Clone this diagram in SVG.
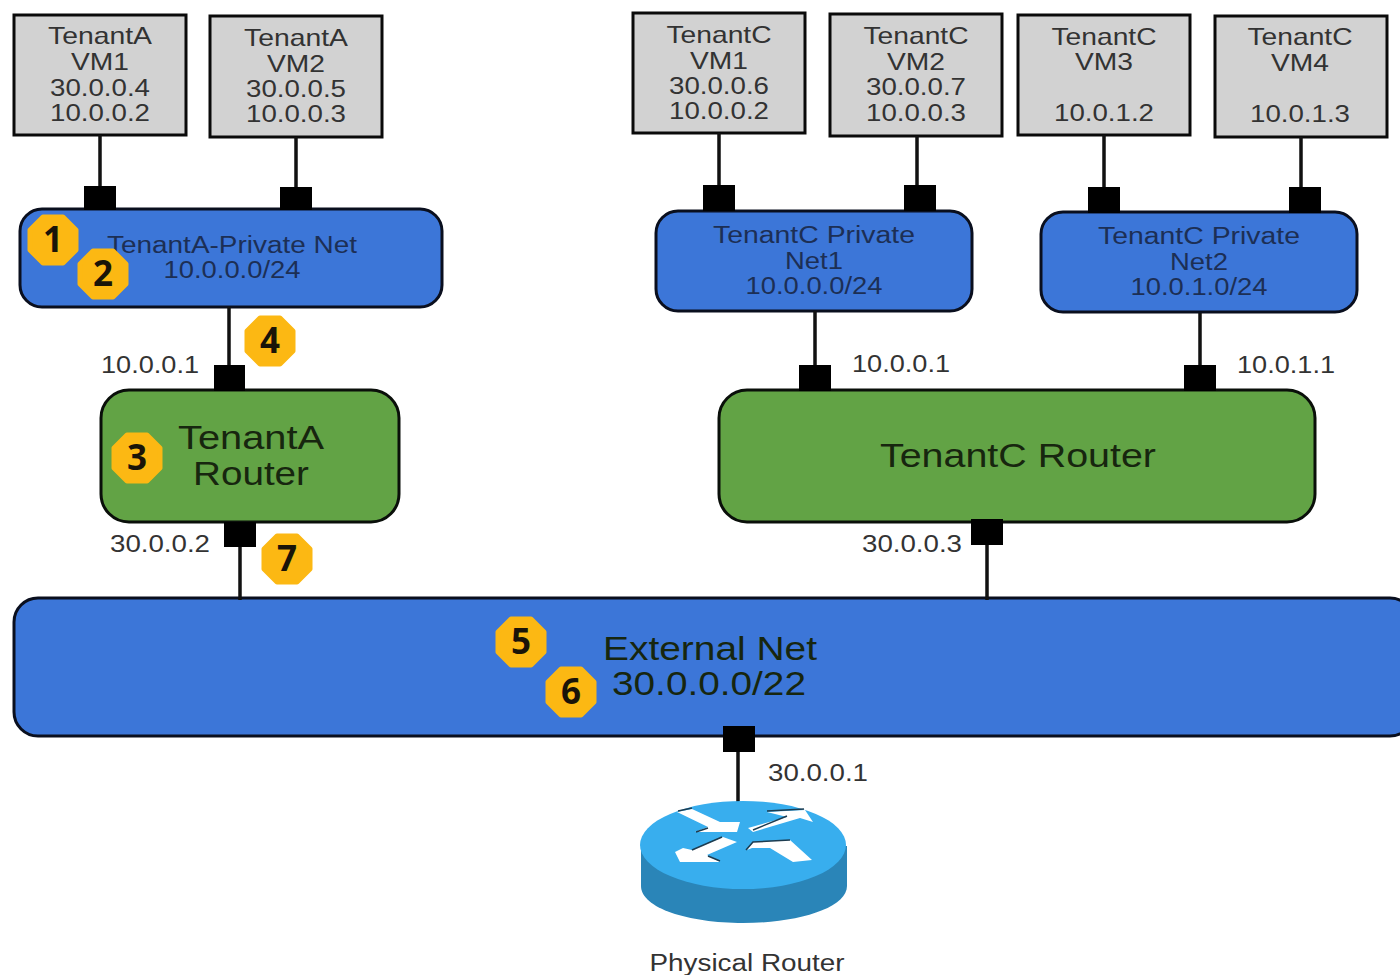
<svg xmlns="http://www.w3.org/2000/svg" width="1400" height="975" viewBox="0 0 1400 975">
<defs><style>
text{font-family:"Liberation Sans",Arial,sans-serif;text-anchor:middle}
.vm{fill:#d2d2d2;stroke:#0a0a0a;stroke-width:3}
.vt{font-size:24px;fill:#333}
.net{fill:#3c76d8;stroke:#0a0f1e;stroke-width:3}
.nt{font-size:23px;fill:#1c2f55}
.rt{fill:#62a345;stroke:#0a0f0a;stroke-width:3}
.rtt{font-size:33px;fill:#17260f}
.lbl{font-size:23px;fill:#333}
.port{fill:#000}
.wire{stroke:#111;stroke-width:3.5;fill:none}
.bdg{fill:#fcb813;stroke:#fcb813;stroke-width:5;stroke-linejoin:round}
text.bt{font-family:"Noto Sans","Liberation Sans",sans-serif;font-size:35px;font-weight:bold;fill:#1a1408}
</style>
<polygon id="oct" points="-10,-23 10,-23 23,-10 23,10 10,23 -10,23 -23,10 -23,-10"/>
</defs>
<rect width="1400" height="975" fill="#fff"/>
<g id="vm-a1"><rect class="vm" x="14" y="15" width="172" height="120"/><text class="vt" x="100" y="44" textLength="104" lengthAdjust="spacingAndGlyphs">TenantA</text><text class="vt" x="100" y="70" textLength="58" lengthAdjust="spacingAndGlyphs">VM1</text><text class="vt" x="100" y="96" textLength="100" lengthAdjust="spacingAndGlyphs">30.0.0.4</text><text class="vt" x="100" y="121" textLength="100" lengthAdjust="spacingAndGlyphs">10.0.0.2</text></g>
<g id="vm-a2"><rect class="vm" x="210" y="16" width="172" height="121"/><text class="vt" x="296" y="46" textLength="104" lengthAdjust="spacingAndGlyphs">TenantA</text><text class="vt" x="296" y="72" textLength="58" lengthAdjust="spacingAndGlyphs">VM2</text><text class="vt" x="296" y="97" textLength="100" lengthAdjust="spacingAndGlyphs">30.0.0.5</text><text class="vt" x="296" y="122" textLength="100" lengthAdjust="spacingAndGlyphs">10.0.0.3</text></g>
<g id="vm-c1"><rect class="vm" x="633" y="13" width="172" height="120"/><text class="vt" x="719" y="43" textLength="105" lengthAdjust="spacingAndGlyphs">TenantC</text><text class="vt" x="719" y="69" textLength="58" lengthAdjust="spacingAndGlyphs">VM1</text><text class="vt" x="719" y="94" textLength="100" lengthAdjust="spacingAndGlyphs">30.0.0.6</text><text class="vt" x="719" y="119" textLength="100" lengthAdjust="spacingAndGlyphs">10.0.0.2</text></g>
<g id="vm-c2"><rect class="vm" x="830" y="14" width="172" height="122"/><text class="vt" x="916" y="44" textLength="105" lengthAdjust="spacingAndGlyphs">TenantC</text><text class="vt" x="916" y="70" textLength="58" lengthAdjust="spacingAndGlyphs">VM2</text><text class="vt" x="916" y="95" textLength="100" lengthAdjust="spacingAndGlyphs">30.0.0.7</text><text class="vt" x="916" y="121" textLength="100" lengthAdjust="spacingAndGlyphs">10.0.0.3</text></g>
<g id="vm-c3"><rect class="vm" x="1018" y="15" width="172" height="120"/><text class="vt" x="1104" y="45" textLength="105" lengthAdjust="spacingAndGlyphs">TenantC</text><text class="vt" x="1104" y="70" textLength="58" lengthAdjust="spacingAndGlyphs">VM3</text><text class="vt" x="1104" y="121" textLength="100" lengthAdjust="spacingAndGlyphs">10.0.1.2</text></g>
<g id="vm-c4"><rect class="vm" x="1215" y="16" width="172" height="121"/><text class="vt" x="1300" y="45" textLength="105" lengthAdjust="spacingAndGlyphs">TenantC</text><text class="vt" x="1300" y="71" textLength="58" lengthAdjust="spacingAndGlyphs">VM4</text><text class="vt" x="1300" y="122" textLength="100" lengthAdjust="spacingAndGlyphs">10.0.1.3</text></g>
<g id="net-a"><rect class="net" x="20" y="209" width="422" height="98" rx="22"/><text class="nt" x="232" y="253" textLength="250" lengthAdjust="spacingAndGlyphs">TenantA-Private Net</text><text class="nt" x="232" y="278" textLength="137" lengthAdjust="spacingAndGlyphs">10.0.0.0/24</text></g>
<g id="net-c1"><rect class="net" x="656" y="211" width="316" height="100" rx="22"/><text class="nt" x="814" y="243" textLength="202" lengthAdjust="spacingAndGlyphs">TenantC Private</text><text class="nt" x="814" y="269" textLength="58" lengthAdjust="spacingAndGlyphs">Net1</text><text class="nt" x="814" y="294" textLength="137" lengthAdjust="spacingAndGlyphs">10.0.0.0/24</text></g>
<g id="net-c2"><rect class="net" x="1041" y="212" width="316" height="100" rx="22"/><text class="nt" x="1199" y="244" textLength="202" lengthAdjust="spacingAndGlyphs">TenantC Private</text><text class="nt" x="1199" y="270" textLength="58" lengthAdjust="spacingAndGlyphs">Net2</text><text class="nt" x="1199" y="295" textLength="137" lengthAdjust="spacingAndGlyphs">10.0.1.0/24</text></g>
<g id="router-a"><rect class="rt" x="101" y="390" width="298" height="132" rx="28"/><text class="rtt" x="251" y="449" textLength="146" lengthAdjust="spacingAndGlyphs">TenantA</text><text class="rtt" x="251" y="485" textLength="116" lengthAdjust="spacingAndGlyphs">Router</text></g>
<g id="router-c"><rect class="rt" x="719" y="390" width="596" height="132" rx="28"/><text class="rtt" x="1018" y="467" textLength="276" lengthAdjust="spacingAndGlyphs">TenantC Router</text></g>
<g id="net-ext"><rect class="net" x="14" y="598" width="1400" height="138" rx="24"/><text class="rtt" x="710" y="660" textLength="214" lengthAdjust="spacingAndGlyphs">External Net</text><text class="rtt" x="709" y="695" textLength="194" lengthAdjust="spacingAndGlyphs">30.0.0.0/22</text></g>
<g id="connectors">
<path class="wire" d="M100 135V190M296 137V190M719 133V190M917 136V190M1104 135V190M1301 137V190M229 307V370M815 311V370M1200 313V370M240 540V600M987 540V600M738 745V804"/>
<rect class="port" x="84" y="186" width="32" height="24"/><rect class="port" x="280" y="187" width="32" height="23"/>
<rect class="port" x="703" y="185" width="32" height="26"/><rect class="port" x="904" y="185" width="32" height="26"/>
<rect class="port" x="1088" y="187" width="32" height="26"/><rect class="port" x="1289" y="187" width="32" height="26"/>
<rect class="port" x="214" y="365" width="31" height="26"/><rect class="port" x="799" y="365" width="32" height="26"/><rect class="port" x="1184" y="365" width="32" height="26"/>
<rect class="port" x="224" y="522" width="32" height="25"/><rect class="port" x="971" y="519" width="32" height="26"/><rect class="port" x="723" y="726" width="32" height="26"/>
</g>
<g id="labels"><text class="lbl" x="150" y="373" textLength="98" lengthAdjust="spacingAndGlyphs">10.0.0.1</text><text class="lbl" x="901" y="372" textLength="98" lengthAdjust="spacingAndGlyphs">10.0.0.1</text><text class="lbl" x="1286" y="373" textLength="98" lengthAdjust="spacingAndGlyphs">10.0.1.1</text><text class="lbl" x="160" y="552" textLength="100" lengthAdjust="spacingAndGlyphs">30.0.0.2</text><text class="lbl" x="912" y="552" textLength="100" lengthAdjust="spacingAndGlyphs">30.0.0.3</text><text class="lbl" x="818" y="781" textLength="100" lengthAdjust="spacingAndGlyphs">30.0.0.1</text></g>
<g id="physical-router">
<path d="M641 846V886C641 908 688 923 743 923S847 908 847 886V846Z" fill="#2a85b8"/>
<ellipse cx="743" cy="845" rx="103" ry="44" fill="#38aeee"/>
<path fill="#fff" d="M677 812L692 809L720 822L740 822L737 832L695 832L708 827ZM767 812L805 810L813 822L800 818L753 832L748 828L787 817ZM675 852L680 862L720 862L707 855L737 842L723 837L692 850L683 848ZM747 850L753 842L790 840L812 860L793 862L770 848L752 848Z"/>
<path fill="none" stroke="#1d3c50" stroke-width="1.5" d="M678 811L692 808M696 832L708 828M753 830L787 816M767 811L804 809M692 850L722 837M708 856L720 861M746 850L753 842L790 840"/>
<text x="747" y="971" font-size="23" fill="#333" textLength="195" lengthAdjust="spacingAndGlyphs">Physical Router</text>
</g>
<g id="badges">
<use href="#oct" class="bdg" x="53" y="240"/><text class="bt" x="53" y="252">1</text>
<use href="#oct" class="bdg" x="103" y="274"/><text class="bt" x="103" y="286">2</text>
<use href="#oct" class="bdg" x="137" y="458"/><text class="bt" x="137" y="470">3</text>
<use href="#oct" class="bdg" x="270" y="341"/><text class="bt" x="270" y="353">4</text>
<use href="#oct" class="bdg" x="521" y="642"/><text class="bt" x="521" y="654">5</text>
<use href="#oct" class="bdg" x="571" y="692"/><text class="bt" x="571" y="704">6</text>
<use href="#oct" class="bdg" x="287" y="559"/><text class="bt" x="287" y="571">7</text>
</g>
</svg>
